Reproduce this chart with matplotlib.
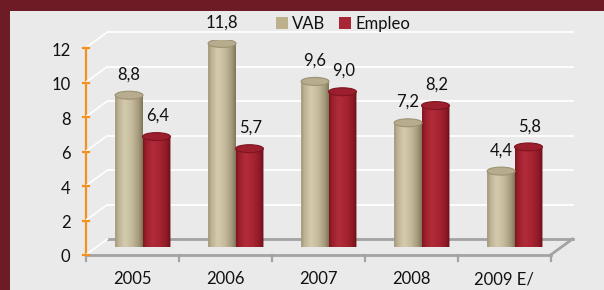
import numpy as np
import matplotlib
matplotlib.use('Agg')
import matplotlib.pyplot as plt
from matplotlib.patches import Rectangle, Ellipse, PathPatch, Patch
from matplotlib.path import Path
from matplotlib.lines import Line2D
from matplotlib.transforms import ScaledTranslation, IdentityTransform
from matplotlib.colors import LinearSegmentedColormap

# ---- data ----
categories = ['2005', '2006', '2007', '2008', '2009 E/']
vab = [8.8, 11.8, 9.6, 7.2, 4.4]
empleo = [6.4, 5.7, 9.0, 8.2, 5.8]
vab_labels = ['8,8', '11,8', '9,6', '7,2', '4,4']
empleo_labels = ['6,4', '5,7', '9,0', '8,2', '5,8']
series_names = ['VAB', 'Empleo']
yticks = [0, 2, 4, 6, 8, 10, 12]
ytick_labels = ['0', '2', '4', '6', '8', '10', '12']

plt.rcParams['font.family'] = ['Lato', 'DejaVu Sans']
FS = 12
TXT = '#111111'

W, H = 604, 290
DPI = 100
fig = plt.figure(figsize=(W / DPI, H / DPI), dpi=DPI, facecolor='#6D1B25')
fig.patches.append(Rectangle((10 / W, 0), (W - 10) / W, (H - 11) / H,
                             transform=fig.transFigure, facecolor='#EAEAEA',
                             edgecolor='none', zorder=-5))

ax = fig.add_axes([96.5 / W, 43 / H, 465 / W, 207 / H])
ax.set_xlim(-0.5, len(categories) - 0.5)
ax.set_ylim(0, 12)
ax.axis('off')

px = 1.0 / DPI
DX, DY = 11, 8
front = ax.transData + ScaledTranslation(-DX * px, -DY * px, fig.dpi_scale_trans)
back = ax.transData + ScaledTranslation(DX * px, DY * px, fig.dpi_scale_trans)

def off(t, dx, dy):
    return t + ScaledTranslation(dx * px, dy * px, fig.dpi_scale_trans)

x_lo, x_hi = -0.5, len(categories) - 0.5

def disp(tr, x, y):
    return tr.transform((x, y))

def dline(p1, p2, **kw):
    l = Line2D([p1[0], p2[0]], [p1[1], p2[1]], transform=IdentityTransform(), **kw)
    fig.add_artist(l)
    return l

# back wall gridlines and side wall diagonals
for y in yticks[1:]:
    ax.plot([x_lo, x_hi], [y, y], transform=back, color='white', lw=1.3,
            clip_on=False, zorder=1)
for y in yticks:
    dline(disp(front, x_lo, y), disp(back, x_lo, y), color='white', lw=1.2, zorder=0.5)

# floor edges
gray = '#A3A3A3'
ax.plot([x_lo, x_hi], [0, 0], transform=back, color=gray, lw=2, clip_on=False, zorder=1.5)
ax.plot([x_lo, x_hi], [0, 0], transform=front, color=gray, lw=2, clip_on=False, zorder=1.5)
dline(disp(front, x_hi, 0), disp(back, x_hi, 0), color=gray, lw=2, zorder=0.6)
for xb in np.arange(x_lo, x_hi + 0.01, 1.0):
    p = disp(front, xb, 0)
    dline(p, (p[0], p[1] - 6), color=gray, lw=1.6, zorder=0.6)

# orange value axis
orange = '#F39020'
ax.plot([x_lo, x_lo], [yticks[0], yticks[-1]], transform=front, color=orange,
        lw=1.6, clip_on=False, zorder=2)
for y, lab in zip(yticks, ytick_labels):
    p = disp(front, x_lo, y)
    dline((p[0] - 3, p[1]), (p[0] + 3, p[1]), color=orange, lw=1.6, zorder=2)
    ax.text(x_lo, y, lab, transform=off(front, -15, -1), ha='right', va='center_baseline',
            fontsize=FS, color=TXT, clip_on=False)

for i, c in enumerate(categories):
    ax.text(i, 0, c, transform=off(front, 0, -23), ha='center', va='center_baseline',
            fontsize=FS, color=TXT, clip_on=False)

# cylinders
bw = 0.30
eh = 0.46
cmap_vab = LinearSegmentedColormap.from_list('vab', [
    (0.0, '#9E9374'), (0.12, '#BDB294'), (0.35, '#D4CAAD'), (0.6, '#C6BB9C'),
    (0.85, '#A59A7B'), (1.0, '#7E7458')])
cmap_emp = LinearSegmentedColormap.from_list('emp', [
    (0.0, '#7E1420'), (0.12, '#9C1F2C'), (0.35, '#B22C3A'), (0.6, '#A82433'),
    (0.85, '#8E1A26'), (1.0, '#6A0E18')])
grad = np.linspace(0, 1, 256).reshape(1, -1)

def cylinder(cx, v, cmap, top_fc, top_ec):
    x0, x1 = cx - bw / 2, cx + bw / 2
    t = np.linspace(np.pi, 2 * np.pi, 40)
    arc_x = cx + (bw / 2) * np.cos(t)
    arc_y = (eh / 2) * np.sin(t)
    verts = [(x0, v)] + list(zip(arc_x, arc_y)) + [(x1, v), (x0, v)]
    codes = [Path.MOVETO] + [Path.LINETO] * (len(verts) - 2) + [Path.CLOSEPOLY]
    clip = PathPatch(Path(verts, codes), transform=ax.transData,
                     facecolor='none', edgecolor='none')
    ax.add_patch(clip)
    im = ax.imshow(grad, cmap=cmap, extent=(x0, x1, -eh / 2, v), aspect='auto',
                   interpolation='bilinear', zorder=3)
    im.set_clip_path(clip)
    ax.add_patch(Ellipse((cx, v), bw, eh, facecolor=top_fc, edgecolor=top_ec,
                         lw=0.8, zorder=4))

for i in range(len(categories)):
    cylinder(i - 0.15, vab[i], cmap_vab, '#B7AC8E', '#9C9173')
    cylinder(i + 0.145, empleo[i], cmap_emp, '#9B1F2C', '#7E1420')
    ax.annotate(vab_labels[i], (i - 0.15, vab[i]), xytext=(0, 16),
                textcoords='offset points', ha='center', va='center_baseline',
                fontsize=FS, color=TXT, annotation_clip=False)
    ax.annotate(empleo_labels[i], (i + 0.16, empleo[i]), xytext=(0, 16),
                textcoords='offset points', ha='center', va='center_baseline',
                fontsize=FS, color=TXT, annotation_clip=False)

ax.set_xlim(-0.5, len(categories) - 0.5)
ax.set_ylim(0, 12)

handles = [Patch(facecolor='#BDB08C', edgecolor='none'),
           Patch(facecolor='#A82535', edgecolor='none')]
fig.legend(handles, series_names, loc='center', bbox_to_anchor=(343 / W, 1 - 24 / H),
           ncol=2, frameon=False, fontsize=FS, handlelength=0.75, handleheight=0.75,
           handletextpad=0.25, columnspacing=0.8, borderpad=0, labelcolor=TXT)

fig.savefig('out.png', dpi=DPI, facecolor=fig.get_facecolor())
